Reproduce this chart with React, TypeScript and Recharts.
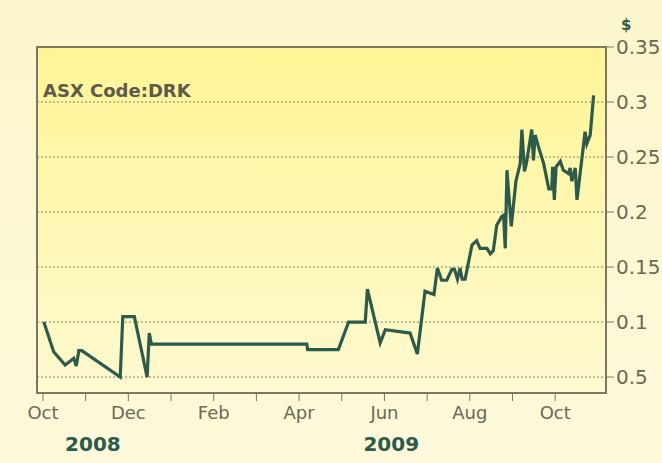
import { LineChart, Line, XAxis, YAxis, CartesianGrid, ReferenceArea } from "recharts";

// x = months since start of Oct 2008
const PRICE_X = [
  0.02, 0.25, 0.52, 0.72, 0.78, 0.84, 0.91, 1.81, 1.87, 2.14, 2.44, 2.49, 2.54, 6.18, 6.2, 6.92,
  7.16, 7.55, 7.6, 7.9, 8.02, 8.6, 8.77, 8.95, 9.16, 9.24, 9.34, 9.46, 9.58, 9.64, 9.71, 9.77,
  9.82, 9.89, 10.05, 10.16, 10.24, 10.4, 10.48, 10.55, 10.63, 10.75, 10.79, 10.83, 10.87, 10.97,
  11.08, 11.18, 11.22, 11.28, 11.33, 11.45, 11.49, 11.53, 11.61, 11.73, 11.85, 11.92, 11.94,
  11.98, 12.02, 12.12, 12.19, 12.31, 12.35, 12.39, 12.47, 12.51, 12.7, 12.74, 12.82, 12.9,
];
const PRICE = [
  0.1, 0.073, 0.061, 0.067, 0.06, 0.074, 0.074, 0.05, 0.105, 0.105, 0.05, 0.09, 0.08, 0.08, 0.075, 0.075,
  0.1, 0.1, 0.13, 0.081, 0.093, 0.09, 0.071, 0.128, 0.125, 0.149, 0.138, 0.138, 0.148, 0.148, 0.139, 0.149,
  0.139, 0.139, 0.17, 0.174, 0.167, 0.167, 0.162, 0.165, 0.188, 0.196, 0.197, 0.167, 0.238, 0.187,
  0.228, 0.244, 0.275, 0.237, 0.245, 0.275, 0.247, 0.27, 0.259, 0.244, 0.221, 0.221, 0.241,
  0.211, 0.241, 0.246, 0.238, 0.235, 0.24, 0.228, 0.24, 0.211, 0.273, 0.262, 0.27, 0.306,
];

const MONTH_TICKS = [0, 1, 2, 3, 4, 5, 6, 7, 8, 9, 10, 11, 12];
const MONTH_LABELS = ["Oct", "", "Dec", "", "Feb", "", "Apr", "", "Jun", "", "Aug", "", "Oct"];
const YEAR_TICKS = [1.17, 8.16];
const YEAR_LABELS = ["2008", "2009"];
const PRICE_TICKS = [0.05, 0.1, 0.15, 0.2, 0.25, 0.3, 0.35];
const PRICE_LABELS = ["0.5", "0.1", "0.15", "0.2", "0.25", "0.3", "0.35"]; // sic, as printed

const X_DOMAIN: [number, number] = [-0.14, 13.19];
const Y_DOMAIN: [number, number] = [0.0355, 0.35];

const FONT = "'DejaVu Sans', Verdana, sans-serif";
const GREY = "#6b6955";
const GREEN = "#2d5b4b";

const data = PRICE_X.map((m, i) => ({ m, price: PRICE[i] }));

export default function App() {
  return (
    <div
      style={{
        position: "absolute",
        left: 0,
        top: 0,
        width: 662,
        height: 463,
        background: "linear-gradient(#fcf6cc, #fdf9da)",
        fontFamily: FONT,
      }}
    >
      <svg width={0} height={0} style={{ position: "absolute" }}>
        <defs>
          <linearGradient id="plotBg" x1="0" y1="0" x2="0" y2="1">
            <stop offset="0%" stopColor="#fff596" />
            <stop offset="100%" stopColor="#fef9d0" />
          </linearGradient>
        </defs>
      </svg>
      <LineChart width={662} height={463} data={data} margin={{ top: 47, right: 0, left: 37, bottom: 0 }}>
        <CartesianGrid
          vertical={false}
          fill="url(#plotBg)"
          stroke="#857f68"
          strokeDasharray="2 2"
        />
        <XAxis
          dataKey="m"
          type="number"
          domain={X_DOMAIN}
          allowDataOverflow
          ticks={MONTH_TICKS}
          interval={0}
          tickFormatter={(v: number) => MONTH_LABELS[MONTH_TICKS.indexOf(v)] ?? ""}
          height={36}
          tickSize={8}
          tickMargin={5}
          stroke="#7a7862"
          axisLine={{ stroke: "#7a7862", strokeWidth: 2 }}
          tick={{ fill: GREY, fontSize: 18, fontFamily: FONT }}
        />
        <XAxis
          xAxisId="year"
          dataKey="m"
          type="number"
          domain={X_DOMAIN}
          allowDataOverflow
          ticks={YEAR_TICKS}
          interval={0}
          tickFormatter={(v: number) => YEAR_LABELS[YEAR_TICKS.indexOf(v)] ?? ""}
          height={34}
          tickSize={0}
          tickMargin={8}
          axisLine={false}
          tickLine={false}
          tick={{ fill: GREEN, fontSize: 20, fontWeight: "bold", fontFamily: FONT }}
        />
        <YAxis
          orientation="right"
          type="number"
          domain={Y_DOMAIN}
          allowDataOverflow
          ticks={PRICE_TICKS}
          interval={0}
          tickFormatter={(v: number) => PRICE_LABELS[PRICE_TICKS.indexOf(v)] ?? ""}
          width={56}
          tickSize={8}
          tickMargin={2}
          stroke="#7a7862"
          axisLine={{ stroke: "#7a7862", strokeWidth: 2 }}
          tick={{ fill: GREY, fontSize: 20, fontFamily: FONT }}
        />
        <ReferenceArea
          x1={X_DOMAIN[0]}
          x2={X_DOMAIN[1]}
          y1={Y_DOMAIN[0]}
          y2={Y_DOMAIN[1]}
          fillOpacity={0}
          stroke="#7a7862"
          strokeWidth={2}
          ifOverflow="visible"
        />
        <Line
          type="linear"
          dataKey="price"
          stroke={GREEN}
          strokeWidth={3.2}
          dot={false}
          activeDot={false}
          isAnimationActive={false}
        />
      </LineChart>
      <div
        style={{
          position: "absolute",
          left: 43,
          top: 82,
          fontSize: 18,
          lineHeight: 1,
          fontWeight: "bold",
          color: "#5d5b4a",
          whiteSpace: "nowrap",
        }}
      >
        ASX Code:DRK
      </div>
      <div
        style={{
          position: "absolute",
          left: 621,
          top: 18,
          fontSize: 15,
          lineHeight: 1,
          fontWeight: "bold",
          color: GREEN,
        }}
      >
        $
      </div>
    </div>
  );
}
